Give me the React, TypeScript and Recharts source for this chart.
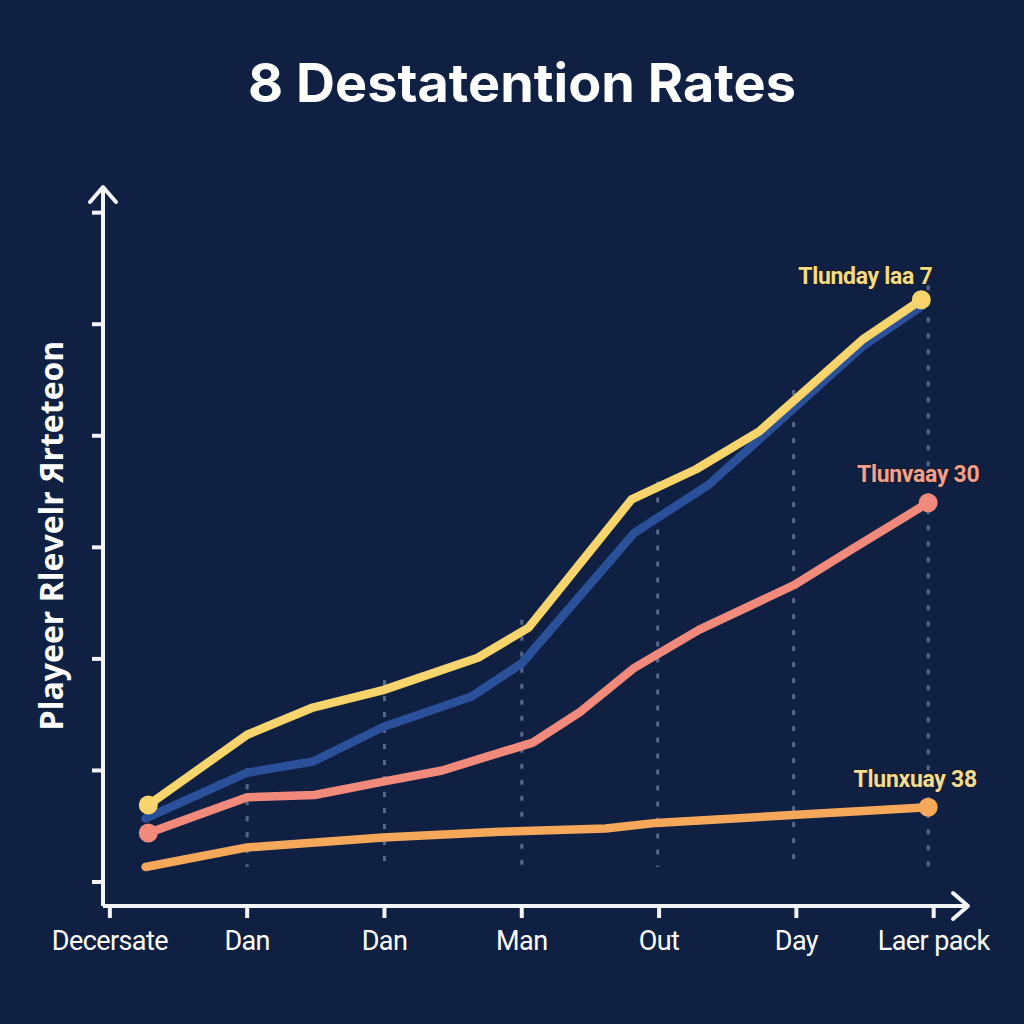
import React from 'react';
import { LineChart, Line, XAxis, YAxis, ReferenceLine } from 'recharts';

const titleText = '8 Destatention Rates';
const yAxisTitle = 'Playeer Rlevelr Яrteteon';

const xTickValues = [0, 1, 2, 3, 4, 5, 6];
const xTickLabels = ['Decersate', 'Dan', 'Dan', 'Man', 'Out', 'Day', 'Laer pack'];
const yTickValues = [0, 10, 20, 30, 40, 50, 60];

const yellowSeries = [
  { t: 0.28, v: 6.9 },
  { t: 1.0, v: 13.2 },
  { t: 1.47, v: 15.6 },
  { t: 1.99, v: 17.2 },
  { t: 2.68, v: 20.1 },
  { t: 3.05, v: 22.8 },
  { t: 3.8, v: 34.3 },
  { t: 4.27, v: 37.0 },
  { t: 4.73, v: 40.4 },
  { t: 5.48, v: 48.6 },
  { t: 5.91, v: 52.2 },
];

const blueSeries = [
  { t: 0.26, v: 5.7 },
  { t: 1.0, v: 9.8 },
  { t: 1.48, v: 10.8 },
  { t: 1.99, v: 13.9 },
  { t: 2.63, v: 16.6 },
  { t: 3.0, v: 19.6 },
  { t: 3.82, v: 31.3 },
  { t: 4.36, v: 35.6 },
  { t: 5.48, v: 48.0 },
  { t: 5.91, v: 51.6 },
];

const pinkSeries = [
  { t: 0.28, v: 4.4 },
  { t: 1.0, v: 7.6 },
  { t: 1.49, v: 7.8 },
  { t: 1.99, v: 9.0 },
  { t: 2.42, v: 10.0 },
  { t: 3.08, v: 12.5 },
  { t: 3.42, v: 15.2 },
  { t: 3.82, v: 19.2 },
  { t: 4.29, v: 22.6 },
  { t: 4.98, v: 26.6 },
  { t: 5.4, v: 29.8 },
  { t: 5.96, v: 34.0 },
];

const orangeSeries = [
  { t: 0.26, v: 1.35 },
  { t: 1.0, v: 3.1 },
  { t: 1.99, v: 4.0 },
  { t: 2.84, v: 4.5 },
  { t: 3.61, v: 4.8 },
  { t: 3.98, v: 5.3 },
  { t: 4.97, v: 6.0 },
  { t: 5.96, v: 6.7 },
];

const guideX = [1, 2, 3, 3.99, 4.98, 5.96];
const guideTop = [10.2, 18.1, 23.5, 35.9, 44.1, 53.5];
const guideBottom = 1.35;

const yellowEndLabel = 'Tlunday laa 7';
const pinkEndLabel = 'Tlunvaay 30';
const orangeEndLabel = 'Tlunxuay 38';

const BG = '#0f2042';
const YELLOW = '#f8d56c';
const BLUE = '#2a509a';
const PINK = '#f28a7c';
const ORANGE = '#f6a85a';
const AXIS = '#f4f5f7';
const GUIDE = '#55678b';

function makeDot(color: string, showFirst: boolean, showLast: boolean, len: number) {
  return (props: any) => {
    const { cx, cy, index } = props;
    const show = (showFirst && index === 0) || (showLast && index === len - 1);
    if (!show || cx == null || cy == null) return <g key={`d-${color}-${index}`} />;
    return <circle key={`d-${color}-${index}`} cx={cx} cy={cy} r={9.5} fill={color} />;
  };
}

function makeEndLabel(text: string, color: string, len: number, dx: number, dy: number) {
  return (props: any) => {
    const { x, y, index } = props;
    if (index !== len - 1 || x == null || y == null) return <g key={`l-${color}-${index}`} />;
    return (
      <text
        key={`l-${color}-${index}`}
        x={x + dx}
        y={y + dy}
        textAnchor="middle"
        dominantBaseline="central"
        fill={color}
        stroke="#1a1a22"
        strokeWidth={2}
        paintOrder="stroke"
        style={{ fontFamily: 'Roboto, sans-serif', fontWeight: 700, fontSize: 23, letterSpacing: -0.3 }}
      >
        {text}
      </text>
    );
  };
}

const renderYTitle = (props: any) => {
  const vb = props.viewBox || { x: 43, y: 187, width: 60, height: 719 };
  const cx = vb.x + 7;
  const cy = vb.y + vb.height / 2 - 11;
  return (
    <text
      x={cx}
      y={cy}
      transform={`rotate(-90, ${cx}, ${cy})`}
      textAnchor="middle"
      dominantBaseline="central"
      fill="#ffffff"
      style={{ fontFamily: '"Open Sans", sans-serif', fontWeight: 700, fontSize: 32 }}
    >
      {yAxisTitle}
    </text>
  );
};

const emptyTick = (props: any) => <g key={`yt-${props.index}`} />;

export default function App() {
  return (
    <div
      style={{
        position: 'absolute',
        left: 0,
        top: 0,
        width: 1024,
        height: 1024,
        background: BG,
        overflow: 'hidden',
      }}
    >
      <svg width={0} height={0} style={{ position: 'absolute' }}>
        <defs>
          <marker
            id="axisArrow"
            markerUnits="userSpaceOnUse"
            markerWidth={24}
            markerHeight={32}
            viewBox="-2 -16 22 32"
            refX={15}
            refY={0}
            orient="auto-start-reverse"
          >
            <path d="M0,-13 L15,0 L0,13" fill="none" stroke={AXIS} strokeWidth={4} strokeLinecap="round" strokeLinejoin="round" />
          </marker>
        </defs>
      </svg>
      <div
        style={{
          position: 'absolute',
          left: 10,
          top: 56,
          width: 1024,
          textAlign: 'center',
          color: '#ffffff',
          fontFamily: 'Inter, sans-serif',
          fontWeight: 700,
          fontSize: 54,
          lineHeight: '54px',
        }}
      >
        {titleText}
      </div>
      <LineChart
        width={1024}
        height={1024}
        margin={{ top: 187, right: 56, bottom: 58, left: 43 }}
        style={{ position: 'absolute', left: 0, top: 0 }}
      >
        <XAxis
          dataKey="t"
          type="number"
          domain={[-0.05, 6.25]}
          ticks={xTickValues}
          tickFormatter={(v: number) => xTickLabels[Math.round(v)] ?? ''}
          allowDataOverflow
          height={60}
          axisLine={{ stroke: AXIS, strokeWidth: 4, markerEnd: 'url(#axisArrow)' }}
          tickLine={{ stroke: AXIS, strokeWidth: 4 }}
          tickSize={12}
          tickMargin={13}
          tick={{ fill: '#ffffff', fontSize: 27, fontFamily: 'Roboto, sans-serif', letterSpacing: -0.6 }}
        />
        <YAxis
          dataKey="v"
          type="number"
          domain={[-2.15, 62.3]}
          ticks={yTickValues}
          allowDataOverflow
          width={60}
          axisLine={{ stroke: AXIS, strokeWidth: 4, markerStart: 'url(#axisArrow)' }}
          tickLine={{ stroke: AXIS, strokeWidth: 4 }}
          tickSize={11}
          tick={emptyTick}
          label={{ content: renderYTitle }}
        />
        {guideX.map((gx, i) => (
          <ReferenceLine
            key={`g-${i}`}
            segment={[
              { x: gx, y: guideTop[i] },
              { x: gx, y: guideBottom },
            ]}
            stroke={GUIDE}
            strokeWidth={3}
            strokeDasharray="5 11"
            ifOverflow="visible"
          />
        ))}
        <Line
          data={orangeSeries}
          dataKey="v"
          type="linear"
          stroke={ORANGE}
          strokeWidth={8.5}
          strokeLinejoin="round"
          strokeLinecap="round"
          dot={makeDot(ORANGE, false, true, orangeSeries.length)}
          activeDot={false}
          isAnimationActive={false}
          label={makeEndLabel(orangeEndLabel, '#f0dc94', orangeSeries.length, -13, -28)}
        />
        <Line
          data={pinkSeries}
          dataKey="v"
          type="linear"
          stroke={PINK}
          strokeWidth={8.5}
          strokeLinejoin="round"
          strokeLinecap="round"
          dot={makeDot(PINK, true, true, pinkSeries.length)}
          activeDot={false}
          isAnimationActive={false}
          label={makeEndLabel(pinkEndLabel, '#f4a08e', pinkSeries.length, -10, -28)}
        />
        <Line
          data={blueSeries}
          dataKey="v"
          type="linear"
          stroke={BLUE}
          strokeWidth={8.5}
          strokeLinejoin="round"
          strokeLinecap="round"
          dot={false}
          activeDot={false}
          isAnimationActive={false}
        />
        <Line
          data={yellowSeries}
          dataKey="v"
          type="linear"
          stroke={YELLOW}
          strokeWidth={8.5}
          strokeLinejoin="round"
          strokeLinecap="round"
          dot={makeDot(YELLOW, true, true, yellowSeries.length)}
          activeDot={false}
          isAnimationActive={false}
          label={makeEndLabel(yellowEndLabel, '#f3dc86', yellowSeries.length, -56, -23)}
        />
      </LineChart>
    </div>
  );
}
